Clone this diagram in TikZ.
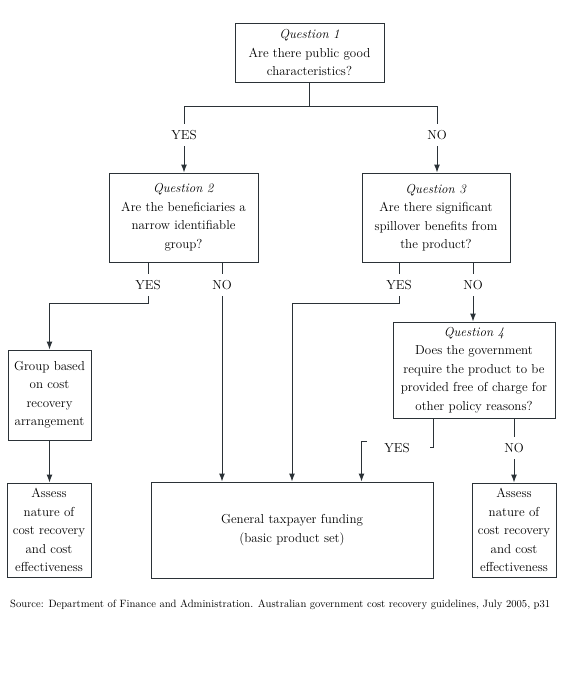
\documentclass[tikz,border=0pt]{standalone}
\usetikzlibrary{arrows.meta}
\definecolor{ln}{HTML}{2B3237}
\tikzset{
  box/.style={draw=ln, line width=1pt, rectangle, align=center, inner sep=0pt,
    font=\fontsize{13}{18.5}\selectfont, text=black},
  lab/.style={inner sep=1pt, minimum height=22pt, font=\fontsize{13}{15}\selectfont},
  con/.style={draw=ln, line width=1pt},
  arr/.style={con, -{Latex[length=8pt,width=6pt]}}
}
\begin{document}
\begin{tikzpicture}[x=1pt,y=-1pt]
\useasboundingbox (0,0) rectangle (562,688);
% boxes
\node[box, minimum width=149, minimum height=59] (q1) at (309.5,52.5)
  {\textit{Question 1}\\Are there public good\\characteristics?};
\node[box, minimum width=149, minimum height=89] (q2) at (183.5,217.5)
  {\textit{Question 2}\\Are the beneficiaries a\\narrow identifiable\\group?};
\node[box, minimum width=148, minimum height=89] (q3) at (436,217.5)
  {\textit{Question 3}\\Are there significant\\spillover benefits from\\the product?};
\node[box, minimum width=162, minimum height=96] (q4) at (474,370)
  {\textit{Question 4}\\Does the government\\require the product to be\\provided free of charge for\\other policy reasons?};
\node[box, minimum width=83, minimum height=90] (grp) at (49.5,395)
  {Group based\\on cost\\recovery\\arrangement};
\node[box, minimum width=84, minimum height=94] (ass1) at (49,530)
  {Assess\\nature of\\cost recovery\\and cost\\effectiveness};
\node[box, minimum width=282, minimum height=96] (gen) at (292,530)
  {General taxpayer funding\\(basic product set)};
\node[box, minimum width=84, minimum height=94] (ass2) at (514,530)
  {Assess\\nature of\\cost recovery\\and cost\\effectiveness};
% labels
\node[lab] (y1) at (184,135) {YES};
\node[lab] (n1) at (437,135) {NO};
\node[lab] (y2) at (148,285) {YES};
\node[lab] (n2) at (222,285) {NO};
\node[lab] (y3) at (399,285) {YES};
\node[lab] (n3) at (473,285) {NO};
\node[lab] (y4) at (397,448) {YES};
\node[lab] (n4) at (514,448) {NO};
% connectors
\draw[con] (q1.south) -- ++(0,24) -| (y1.north);
\draw[con] (q1.south) -- ++(0,24) -| (n1.north);
\draw[arr] (y1.south) -- (y1.south |- q2.north);
\draw[arr] (n1.south) -- (n1.south |- q3.north);
\draw[con] (q2.south -| y2) -- (y2.north);
\draw[arr] (y2.south) -- ++(0,7) -| (grp.north);
\draw[con] (q2.south -| n2) -- (n2.north);
\draw[arr] (n2.south) -- (n2.south |- gen.north);
\draw[con] (q3.south -| y3) -- (y3.north);
\draw[arr] (y3.south) -- ++(0,7) -| (gen.north);
\draw[con] (q3.south -| n3) -- (n3.north);
\draw[arr] (n3.south) -- (n3.south |- q4.north);
\coordinate (y4a) at (433,447);
\coordinate (y4b) at (367,441);
\coordinate (y4c) at (361.5,441);
\draw[con] (q4.south -| y4a) -- (y4a) -- ++(-3,0);
\draw[arr] (y4b) -- (y4c) -- (y4c |- gen.north);
\draw[con] (q4.south -| n4) -- (n4.north);
\draw[arr] (n4.south) -- (n4.south |- ass2.north);
\draw[arr] (grp.south) -- (grp.south |- ass1.north);
% source
\node[anchor=west, inner sep=0pt, font=\fontsize{10.6}{12}\selectfont] (src) at (10,605)
  {Source: Department of Finance and Administration. Australian government cost recovery guidelines, July 2005, p31};
\end{tikzpicture}
\end{document}
